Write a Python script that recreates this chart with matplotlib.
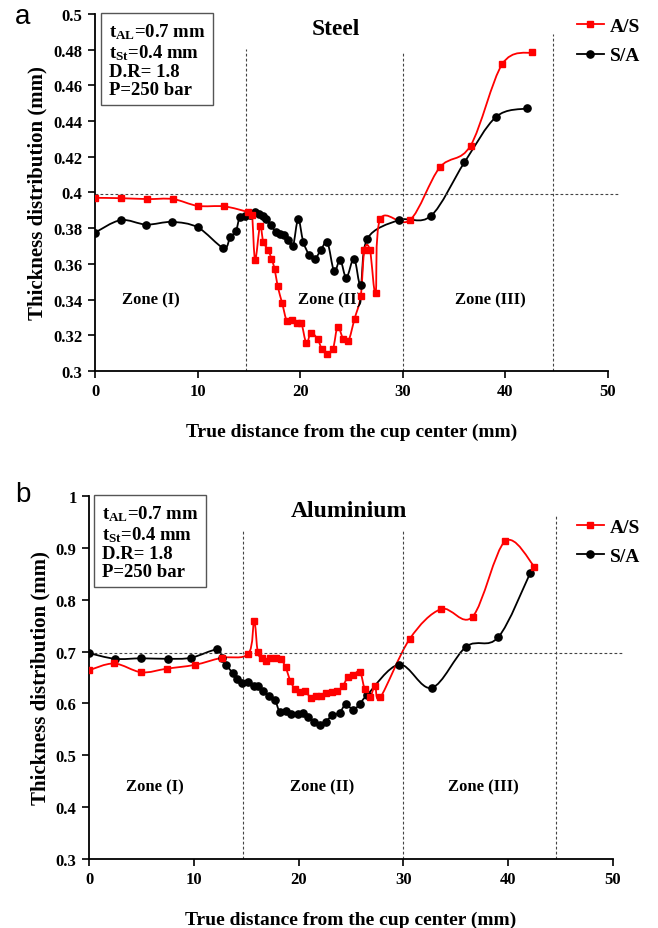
import matplotlib
matplotlib.use("Agg")
import matplotlib.pyplot as plt
import numpy as np
from matplotlib.path import Path
from matplotlib.patches import PathPatch
from matplotlib.lines import Line2D
from matplotlib.ticker import FuncFormatter

plt.rcParams['font.family'] = ['Liberation Serif', 'DejaVu Serif']
plt.rcParams['font.weight'] = 'bold'
plt.rcParams['mathtext.fontset'] = 'custom'
plt.rcParams['mathtext.rm'] = 'Liberation Serif:bold'
plt.rcParams['mathtext.it'] = 'Liberation Serif:bold'
plt.rcParams['mathtext.bf'] = 'Liberation Serif:bold'

# ---- panel a : Steel ----
steel_as_x = [0, 2.5, 5.1, 7.6, 10.0, 12.6, 14.9, 15.3, 15.6, 16.08, 16.4, 16.9, 17.2, 17.5,
              17.8, 18.25, 18.7, 19.2, 19.66, 20.1, 20.6, 21.05, 21.7, 22.1, 22.6, 23.2,
              23.65, 24.2, 24.7, 25.3, 25.9, 26.25, 26.8, 27.35, 27.8, 30.7, 33.6, 36.6,
              39.7, 42.6]
steel_as_y = [0.397, 0.3968, 0.3963, 0.3963, 0.3925, 0.3922, 0.389, 0.3875, 0.3622, 0.3813,
              0.3723, 0.3676, 0.3626, 0.3574, 0.3476, 0.3378, 0.328, 0.3285, 0.3267, 0.3271,
              0.3155, 0.3215, 0.3177, 0.3125, 0.3097, 0.3125, 0.3248, 0.3177, 0.3168, 0.3293,
              0.342, 0.3676, 0.3676, 0.3435, 0.385, 0.3845, 0.414, 0.4262, 0.472, 0.4785]

steel_sa_x = [0, 2.5, 5.0, 7.5, 10.0, 12.5, 13.16, 13.74, 14.1, 14.6, 15.1, 15.6, 16.0, 16.35,
              16.7, 17.15, 17.6, 18.0, 18.45, 18.85, 19.3, 19.8, 20.3, 20.9, 21.45, 22.0,
              22.65, 23.3, 23.9, 24.5, 25.25, 25.9, 26.55, 29.6, 32.75, 36.0, 39.1, 42.1]
steel_sa_y = [0.3775, 0.3845, 0.382, 0.3835, 0.3805, 0.369, 0.3748, 0.3785, 0.386, 0.3869,
              0.3874, 0.3888, 0.3878, 0.3869, 0.385, 0.3817, 0.378, 0.377, 0.376, 0.3734,
              0.370, 0.385, 0.3723, 0.3648, 0.363, 0.3676, 0.372, 0.356, 0.3622, 0.3523,
              0.363, 0.3482, 0.3742, 0.3845, 0.3869, 0.4168, 0.4424, 0.4471]

# ---- panel b : Aluminium ----
alu_as_x = [0, 2.4, 5.0, 7.4, 10.1, 12.66, 15.2, 15.75, 16.1, 16.5, 16.9, 17.3, 17.8, 18.3,
            18.75, 19.2, 19.65, 20.1, 20.6, 21.2, 21.65, 22.1, 22.6, 23.15, 23.7, 24.2, 24.7,
            25.2, 25.85, 26.3, 26.8, 27.3, 27.8, 30.6, 33.6, 36.6, 39.7, 42.5]
alu_as_y = [0.664, 0.677, 0.66, 0.667, 0.6744, 0.688, 0.6956, 0.7586, 0.6988, 0.688, 0.681,
            0.688, 0.688, 0.686, 0.670, 0.644, 0.627, 0.622, 0.624, 0.610, 0.614, 0.614,
            0.620, 0.622, 0.623, 0.633, 0.651, 0.655, 0.661, 0.628, 0.612, 0.634, 0.612,
            0.7245, 0.782, 0.7675, 0.9127, 0.8638]

alu_sa_x = [0, 2.5, 5.0, 7.5, 9.73, 12.2, 12.66, 13.1, 13.7, 14.15, 14.6, 15.2, 15.7, 16.15,
            16.6, 17.2, 17.75, 18.2, 18.8, 19.3, 19.9, 20.4, 20.9, 21.5, 22.05, 22.6, 23.2,
            23.9, 24.5, 25.2, 25.85, 26.55, 29.6, 32.7, 36.0, 39.05, 42.1]
alu_sa_y = [0.697, 0.686, 0.687, 0.686, 0.688, 0.704, 0.688, 0.674, 0.659, 0.647, 0.640, 0.642,
            0.6345, 0.633, 0.623, 0.615, 0.606, 0.584, 0.586, 0.580, 0.579, 0.581, 0.574,
            0.564, 0.5575, 0.565, 0.577, 0.582, 0.598, 0.588, 0.599, 0.6166, 0.675, 0.630,
            0.7097, 0.7277, 0.8516]

zone_bounds = [14.7, 30.0, 44.6]
info_lines = ["t$_{\\mathrm{AL}}$=0.7 mm", "t$_{\\mathrm{St}}$=0.4 mm", "D.R= 1.8", "P=250 bar"]


def smooth_path(x, y):
    # excel style smoothed line (catmull-rom as cubic bezier)
    x = np.asarray(x, float)
    y = np.asarray(y, float)
    n = len(x)
    verts = [(x[0], y[0])]
    codes = [Path.MOVETO]
    for i in range(n - 1):
        a = max(i - 1, 0)
        d = min(i + 2, n - 1)
        c1 = (x[i] + (x[i + 1] - x[a]) / 6, y[i] + (y[i + 1] - y[a]) / 6)
        c2 = (x[i + 1] - (x[d] - x[i]) / 6, y[i + 1] - (y[d] - y[i]) / 6)
        verts += [c1, c2, (x[i + 1], y[i + 1])]
        codes += [Path.CURVE4] * 3
    return Path(verts, codes)


def draw_panel(ax, as_x, as_y, sa_x, sa_y, ylim, ystep, href, vtops, title, title_x,
               zone_y, zone_x, legend_y, box_x, fig):
    ax.set_xlim(0, 50)
    ax.set_ylim(*ylim)
    # dashed guide lines
    ax.plot([0, 51], [href, href], ls=(0, (2.5, 2)), color='#444444', lw=0.8, clip_on=False)
    for xb, top in zip(zone_bounds, vtops):
        ax.plot([xb, xb], [ylim[0], top], ls=(0, (2.5, 2)), color='#444444', lw=0.8)

    ax.add_patch(PathPatch(smooth_path(sa_x, sa_y), fill=False, edgecolor='black', lw=1.3))
    ax.plot(sa_x, sa_y, ls='none', marker='o', ms=5.2, color='black', zorder=3)
    ax.add_patch(PathPatch(smooth_path(as_x, as_y), fill=False, edgecolor='red', lw=1.3))
    ax.plot(as_x, as_y, ls='none', marker='s', ms=5.0, color='red', zorder=4)

    for s in ['top', 'right']:
        ax.spines[s].set_visible(False)
    for s in ['left', 'bottom']:
        ax.spines[s].set_linewidth(1.3)
    ax.set_xticks(np.arange(0, 51, 10))
    ax.set_yticks(np.round(np.arange(ylim[0], ylim[1] + 1e-9, ystep), 3))
    ax.yaxis.set_major_formatter(FuncFormatter(lambda v, p: ('%g' % round(v, 3))))
    ax.tick_params(direction='out', length=5, width=1.2, labelsize=12, pad=4)
    for lab in ax.get_xticklabels() + ax.get_yticklabels():
        lab.set_fontweight('bold')
    ax.set_xlabel('True distance from the cup center (mm)', fontsize=14,
                  fontweight='bold', labelpad=17)
    ax.set_ylabel('Thickness distribution (mm)', fontsize=15, fontweight='bold',
                  labelpad=4)

    ax.text(title_x, ylim[1] - (ylim[1] - ylim[0]) * 0.04, title, ha='center', va='center',
            fontsize=17, fontweight='bold')
    for zx, zl in zip(zone_x, ['Zone (I)', 'Zone (II)', 'Zone (III)']):
        ax.text(zx, zone_y, zl, ha='center', va='center', fontsize=12, fontweight='bold')

    ax.text(box_x, ylim[1] - (ylim[1] - ylim[0]) * 0.02, "\n".join(info_lines),
            ha='left', va='top', fontsize=13.5, fontweight='bold', linespacing=1.08,
            bbox=dict(boxstyle='square,pad=0.4', facecolor='white', edgecolor='#555555',
                      lw=1.0))

    handles = [Line2D([], [], color='red', marker='s', ms=5.0, lw=1.3),
               Line2D([], [], color='black', marker='o', ms=5.2, lw=1.3)]
    ax.legend(handles, ['A/S', 'S/A'], loc='upper left', bbox_to_anchor=(0.85, legend_y),
              bbox_transform=fig.transFigure, frameon=False,
              handlelength=1.4, handletextpad=0.3, labelspacing=0.6,
              prop={'weight': 'bold', 'size': 14})


fig = plt.figure(figsize=(6.58, 9.29), dpi=100)
ax_a = fig.add_axes([0.1444, 0.5996, 0.7796, 0.3843])
ax_b = fig.add_axes([0.1353, 0.0743, 0.7964, 0.3907])

draw_panel(ax_a, steel_as_x, steel_as_y, steel_sa_x, steel_sa_y, (0.3, 0.5), 0.02, 0.3993,
           [0.4804, 0.479, 0.4888], 'Steel', 23.5, 0.340, [5.4, 22.9, 38.5], 0.999, 1.35, fig)
draw_panel(ax_b, alu_as_x, alu_as_y, alu_sa_x, alu_sa_y, (0.3, 1.0), 0.1, 0.697,
           [0.933, 0.933, 0.961], 'Aluminium', 24.8, 0.440, [6.3, 22.2, 37.6], 0.46, 1.2, fig)

fig.text(23 / 658, 1 - 17 / 929, 'a', ha='center', va='center', fontsize=20,
         family='Liberation Sans', fontweight='normal')
fig.text(23 / 658, 1 - 495 / 929, 'b', ha='center', va='center', fontsize=20,
         family='Liberation Sans', fontweight='normal')

fig.savefig('out.png', dpi=100)
